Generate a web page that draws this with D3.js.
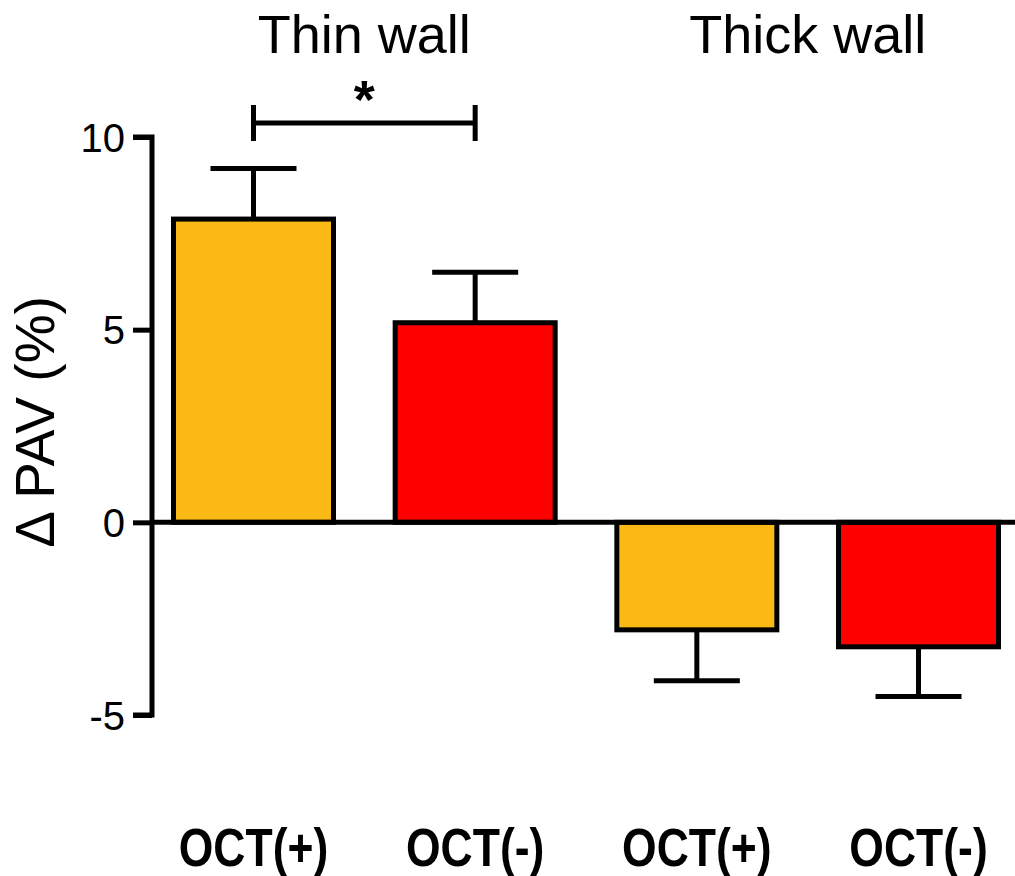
<!DOCTYPE html>
<html>
<head>
<meta charset="utf-8">
<script src="https://cdn.jsdelivr.net/npm/d3@7/dist/d3.min.js"></script>
<style>
  html, body { margin: 0; padding: 0; background: #fff; }
  svg { display: block; }
</style>
</head>
<body>
<svg id="chart" width="1015" height="876"></svg>
<script>
// Change in percent atheroma volume by wall thickness group and OCT finding
const groups = ["Thin wall", "Thin wall", "Thick wall", "Thick wall"];
const categories = ["OCT(+)", "OCT(-)", "OCT(+)", "OCT(-)"];
const means = [7.87, 5.18, -2.79, -3.23];
const errors = [1.31, 1.31, 1.32, 1.29];
const fills = ["#FBB916", "#FF0000", "#FBB916", "#FF0000"];
const yTicks = [-5, 0, 5, 10];
const groupTitles = ["Thin wall", "Thick wall"];

const svg = d3.select("#chart");
const W = 1015, H = 876;

// bar centres
const x = d3.scalePoint()
  .domain(d3.range(categories.length))
  .range([253.5, 918.5]);
const barW = 160;
const capHalf = 43;

const y = d3.scaleLinear().domain([-5, 10]).range([715, 137]);

const axisX = 152;
const sw = 5;
const font = "Liberation Sans, Arial, Helvetica, sans-serif";

// bars with one-sided error bars
const bars = svg.append("g");
means.forEach((v, i) => {
  const cx = x(i);
  bars.append("rect")
    .attr("x", cx - barW / 2)
    .attr("y", Math.min(y(v), y(0)))
    .attr("width", barW)
    .attr("height", Math.abs(y(v) - y(0)))
    .attr("fill", fills[i])
    .attr("stroke", "#000")
    .attr("stroke-width", sw);
  const end = v >= 0 ? v + errors[i] : v - errors[i];
  bars.append("line")
    .attr("x1", cx).attr("x2", cx)
    .attr("y1", y(v)).attr("y2", y(end))
    .attr("stroke", "#000").attr("stroke-width", sw);
  bars.append("line")
    .attr("x1", cx - capHalf).attr("x2", cx + capHalf)
    .attr("y1", y(end)).attr("y2", y(end))
    .attr("stroke", "#000").attr("stroke-width", sw);
});

// zero baseline
svg.append("line")
  .attr("x1", axisX).attr("x2", W)
  .attr("y1", y(0)).attr("y2", y(0))
  .attr("stroke", "#000").attr("stroke-width", sw);

// y axis
const yAxis = d3.axisLeft(y).tickValues(yTicks).tickSize(19).tickPadding(10)
  .tickFormat(d => String(d));
const gy = svg.append("g")
  .attr("transform", `translate(${axisX},0)`)
  .call(yAxis);
gy.select(".domain")
  .attr("d", `M-19,${y(10)}H0V${y(-5)}H-19`)
  .attr("stroke", "#000").attr("stroke-width", sw).attr("fill", "none");
gy.selectAll(".tick line").attr("stroke", "#000").attr("stroke-width", sw);
gy.selectAll(".tick text")
  .attr("font-family", font)
  .attr("font-size", 40)
  .attr("fill", "#000")
  .attr("x", -27)
  .attr("dy", "0.35em");

// y axis title
svg.append("text")
  .attr("transform", `translate(54,422) rotate(-90)`)
  .attr("text-anchor", "middle")
  .attr("font-family", font)
  .attr("font-size", 55)
  .attr("fill", "#000")
  .text("\u0394 PAV (%)");

// category labels (condensed bold)
categories.forEach((c, i) => {
  svg.append("text")
    .attr("transform", `translate(${x(i)},866) scale(0.84,1)`)
    .attr("text-anchor", "middle")
    .attr("font-family", font)
    .attr("font-weight", "bold")
    .attr("font-size", 53)
    .attr("fill", "#000")
    .text(c);
});

// group titles
groupTitles.forEach(t => {
  const idx = groups.indexOf(t);
  const cx = (x(idx) + x(idx + 1)) / 2;
  svg.append("text")
    .attr("x", cx)
    .attr("y", 53)
    .attr("text-anchor", "middle")
    .attr("font-family", font)
    .attr("font-size", 54)
    .attr("fill", "#000")
    .text(t);
});

// significance bracket between the thin-wall bars
const c0 = x(0), c1 = x(1);
const by = 123;
svg.append("path")
  .attr("d", `M${c0},${by - 18}V${by + 18}M${c0},${by}H${c1}M${c1},${by - 18}V${by + 18}`)
  .attr("stroke", "#000").attr("stroke-width", sw).attr("fill", "none");
svg.append("text")
  .attr("x", (c0 + c1) / 2)
  .attr("y", 118)
  .attr("text-anchor", "middle")
  .attr("font-family", font)
  .attr("font-weight", "bold")
  .attr("font-size", 54)
  .attr("fill", "#000")
  .text("*");
</script>
</body>
</html>
